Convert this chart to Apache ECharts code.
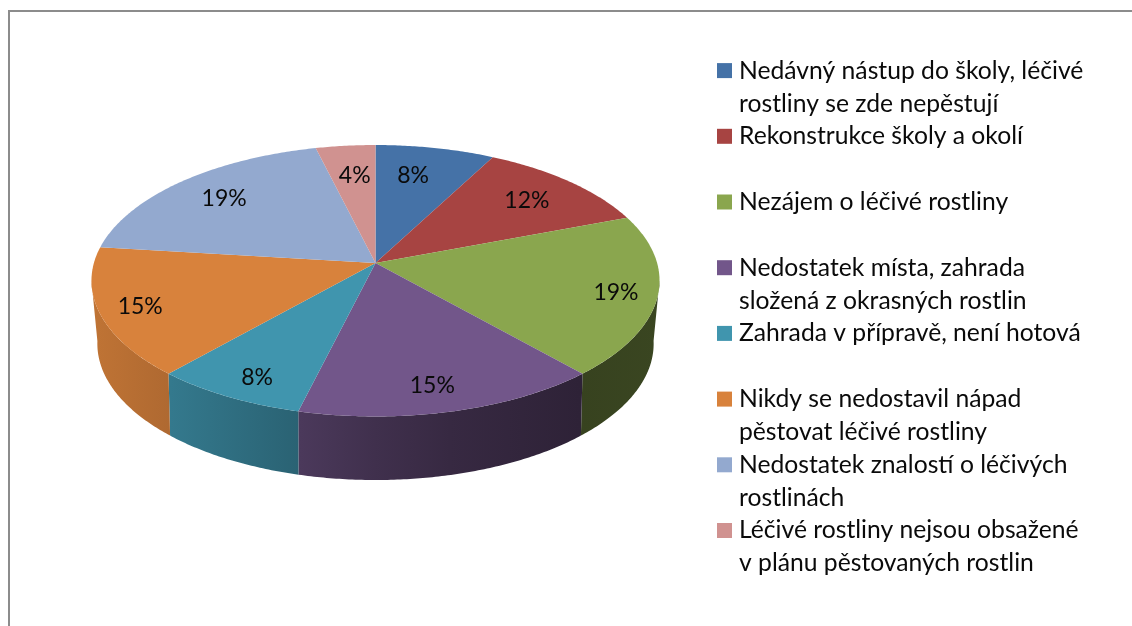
<!DOCTYPE html>
<html><head><meta charset="utf-8">
<style>html,body{margin:0;padding:0;background:#fff}#c{width:1132px;height:626px}</style>
<script src="https://cdn.jsdelivr.net/npm/echarts@6/dist/echarts.min.js"></script>
</head><body><div id="c"></div>
<script>
const categories = [
  'Nedávný nástup do školy, léčivé\nrostliny se zde nepěstují',
  'Rekonstrukce školy a okolí',
  'Nezájem o léčivé rostliny',
  'Nedostatek místa, zahrada\nsložená z okrasných rostlin',
  'Zahrada v přípravě, není hotová',
  'Nikdy se nedostavil nápad\npěstovat léčivé rostliny',
  'Nedostatek znalostí o léčivých\nrostlinách',
  'Léčivé rostliny nejsou obsažené\nv plánu pěstovaných rostlin'
];
const values = [2, 3, 5, 4, 2, 4, 5, 1];
const colors = ['#4572a7','#a74442','#8aa64e','#72568a','#4095ae','#d8823c','#93a9cf','#d09290'];

// projection of the tilted disc
const CX = 375.5;
const TOP_FACE = {cy: 263, a: 281.6, b: 133.4, k: 0.1307};
const BOTTOM_FACE = {cy: 323.3, a: 275, b: 133.2, k: 0.15};
const LABEL_RADIUS = [0.745, 0.766, 0.856, 0.83, 0.852, 0.858, 0.781, 0.735];
const LABEL_TURN = [-2.55, 0, 0, 1.3, -1.3, 0, 1.1, 0.6];
const LABEL_DROP = 1.5;
const SHADE_X = [90, 170, 300, 375, 450, 580, 665];
const SHADE_F = [0.89, 0.81, 0.66, 0.56, 0.48, 0.40, 0.42];
const RIM_FROM = 1.70, RIM_TO = 4.58;

const total = values.reduce((a, b) => a + b, 0);
const starts = []; let acc = 0;
values.forEach(v => { starts.push(acc / total * 2 * Math.PI); acc += v; });
const project = (f, th, r) => {
  const X = r * Math.sin(th), Y = r * Math.cos(th), w = 1 + f.k * Y;
  return [CX + f.a * X / w, f.cy - f.b * Y / w];
};
const arcPts = (f, t0, t1) => {
  const n = Math.max(2, Math.ceil((t1 - t0) / 0.01)), out = [];
  for (let i = 0; i <= n; i++) out.push(project(f, t0 + (t1 - t0) * i / n, 1));
  return out;
};
const scale = (hex, m) => {
  const n = parseInt(hex.slice(1), 16);
  return 'rgb(' + [(n >> 16) & 255, (n >> 8) & 255, n & 255].map(c => Math.round(c * m)).join(',') + ')';
};
const sideFill = (hex) => ({
  type: 'linear', global: true, x: SHADE_X[0], y: 0, x2: SHADE_X[SHADE_X.length - 1], y2: 0,
  colorStops: SHADE_X.map((x, i) => ({
    offset: (x - SHADE_X[0]) / (SHADE_X[SHADE_X.length - 1] - SHADE_X[0]),
    color: scale(hex, SHADE_F[i])
  }))
});

const series = categories.map((name, i) => ({
  type: 'custom', name, coordinateSystem: 'none', silent: true, animation: false,
  itemStyle: {color: colors[i]},
  data: [values[i]],
  renderItem: () => {
    const t0 = starts[i], t1 = t0 + values[i] / total * 2 * Math.PI, children = [];
    const frontA = Math.max(t0, RIM_FROM), frontB = Math.min(t1, RIM_TO);
    if (frontB > frontA) {
      const upper = arcPts(TOP_FACE, frontA, frontB);
      const lower = arcPts(BOTTOM_FACE, frontA, frontB).reverse();
      children.push({type: 'polygon', z2: 1, shape: {points: upper.concat(lower)},
        style: {fill: sideFill(colors[i]), stroke: null}});
    }
    const top = [[CX, TOP_FACE.cy]].concat(arcPts(TOP_FACE, t0, t1));
    children.push({type: 'polygon', z2: 2, shape: {points: top}, style: {fill: colors[i], stroke: null}});
    const lp = project(TOP_FACE, (t0 + t1) / 2 + LABEL_TURN[i] * Math.PI / 180, LABEL_RADIUS[i]);
    children.push({type: 'text', z2: 3, x: lp[0], y: lp[1] + LABEL_DROP, style: {
      text: Math.round(values[i] / total * 100) + '%', fill: '#0a0a0a',
      font: '23px Lato', align: 'center', verticalAlign: 'middle'}});
    return {type: 'group', children};
  }
}));

const chart = echarts.init(document.getElementById('c'), null, {renderer: 'canvas'});
chart.setOption({
  animation: false,
  backgroundColor: '#fff',
  graphic: [{type: 'polyline', silent: true, shape: {points: [[9, 626], [9, 11], [1132, 11]]},
    style: {stroke: '#8c8c8c', lineWidth: 2, fill: null}}],
  legend: {
    orient: 'vertical', left: 717, top: 21.1, padding: 0, itemGap: -33.3,
    itemWidth: 15, itemHeight: 15, icon: 'rect', selectedMode: false,
    data: categories,
    formatter: n => '\n' + n + (n.indexOf('\n') < 0 ? '\n ' : ''),
    textStyle: {fontFamily: 'Lato', fontSize: 24.7, lineHeight: 33, color: '#0a0a0a', padding: [0, 0, 0, 2]}
  },
  series
});
</script></body></html>
